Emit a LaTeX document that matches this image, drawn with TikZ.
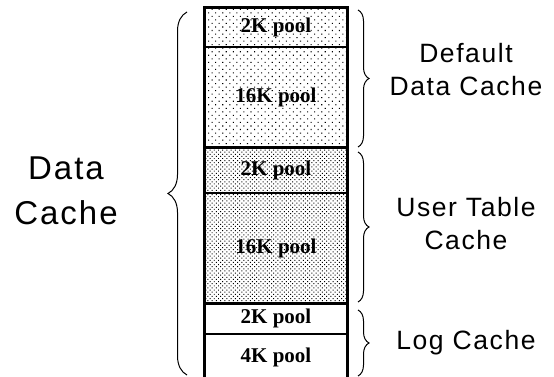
\documentclass[tikz,border=0pt]{standalone}
\usepackage{fontspec}
\setmainfont{Liberation Serif}
\newfontfamily\labelfont[LetterSpace=6]{Liberation Sans}
\usetikzlibrary{patterns.meta,decorations.pathreplacing}

\tikzset{
  pool/.style={draw, line width=1.2pt, minimum width=142pt, inner sep=0pt,
    font=\fontsize{21}{21}\selectfont\bfseries},
  sparse/.style={pattern={Dots[distance=5pt, angle=45, radius=0.75pt]}},
  dense/.style={pattern={Dots[distance=3pt, angle=45, radius=0.7pt]}},
  cachebrace/.style={decorate, decoration={brace, amplitude=#1}, line width=1pt},
  bigtext/.style={font=\labelfont\fontsize{33}{45}\selectfont, align=center},
  sidetext/.style={font=\labelfont\fontsize{26.5}{33}\selectfont, align=center}
}

\begin{document}
\begin{tikzpicture}[x=1pt, y=-1pt]
\useasboundingbox (0,0) rectangle (554,377);

% the pools, top to bottom
\node[pool, sparse, minimum height=39pt]  (dd2)  at (276,27.5)  {2K pool};
\node[pool, sparse, minimum height=100pt] (dd16) at (276,97)    {16K pool};
\node[pool, dense,  minimum height=46pt]  (ut2)  at (276,170)   {2K pool};
\node[pool, dense,  minimum height=110pt] (ut16) at (276,248)   {16K pool};
\node[pool, minimum height=31pt]          (lg2)  at (276,318.5) {2K pool};
\node[pool, minimum height=46pt]          (lg4)  at (276,357)   {4K pool};

% heavy frame and cache boundaries
\draw[line width=3pt] (lg4.south west) -- (dd2.north west) -- (dd2.north east) -- (lg4.south east);
\draw[line width=3pt] (dd16.south west) -- (dd16.south east);
\draw[line width=3pt] (ut16.south west) -- (ut16.south east);

% labels
\node[bigtext]  (datacache)  at (66,191)  {Data\\Cache};
\node[sidetext] (defcache)   at (466,70)  {Default\\Data Cache};
\node[sidetext] (usercache)  at (466,224) {User Table\\Cache};
\node[sidetext] (logcache)   at (466,343) {Log Cache};

% brace ends
\coordinate (lefttop) at (187,12);
\coordinate (leftbot) at (187,375);
\coordinate (deftop)  at (358,10);
\coordinate (defbot)  at (358,147);
\coordinate (usertop) at (358,152);
\coordinate (userbot) at (358,302);
\coordinate (logtop)  at (358,310);
\coordinate (logbot)  at (358,376);

\draw[cachebrace=19pt] (leftbot) -- (lefttop);
\draw[cachebrace=11pt] (deftop) -- (defbot);
\draw[cachebrace=11pt] (usertop) -- (userbot);
\draw[cachebrace=11pt] (logtop) -- (logbot);

\end{tikzpicture}
\end{document}
